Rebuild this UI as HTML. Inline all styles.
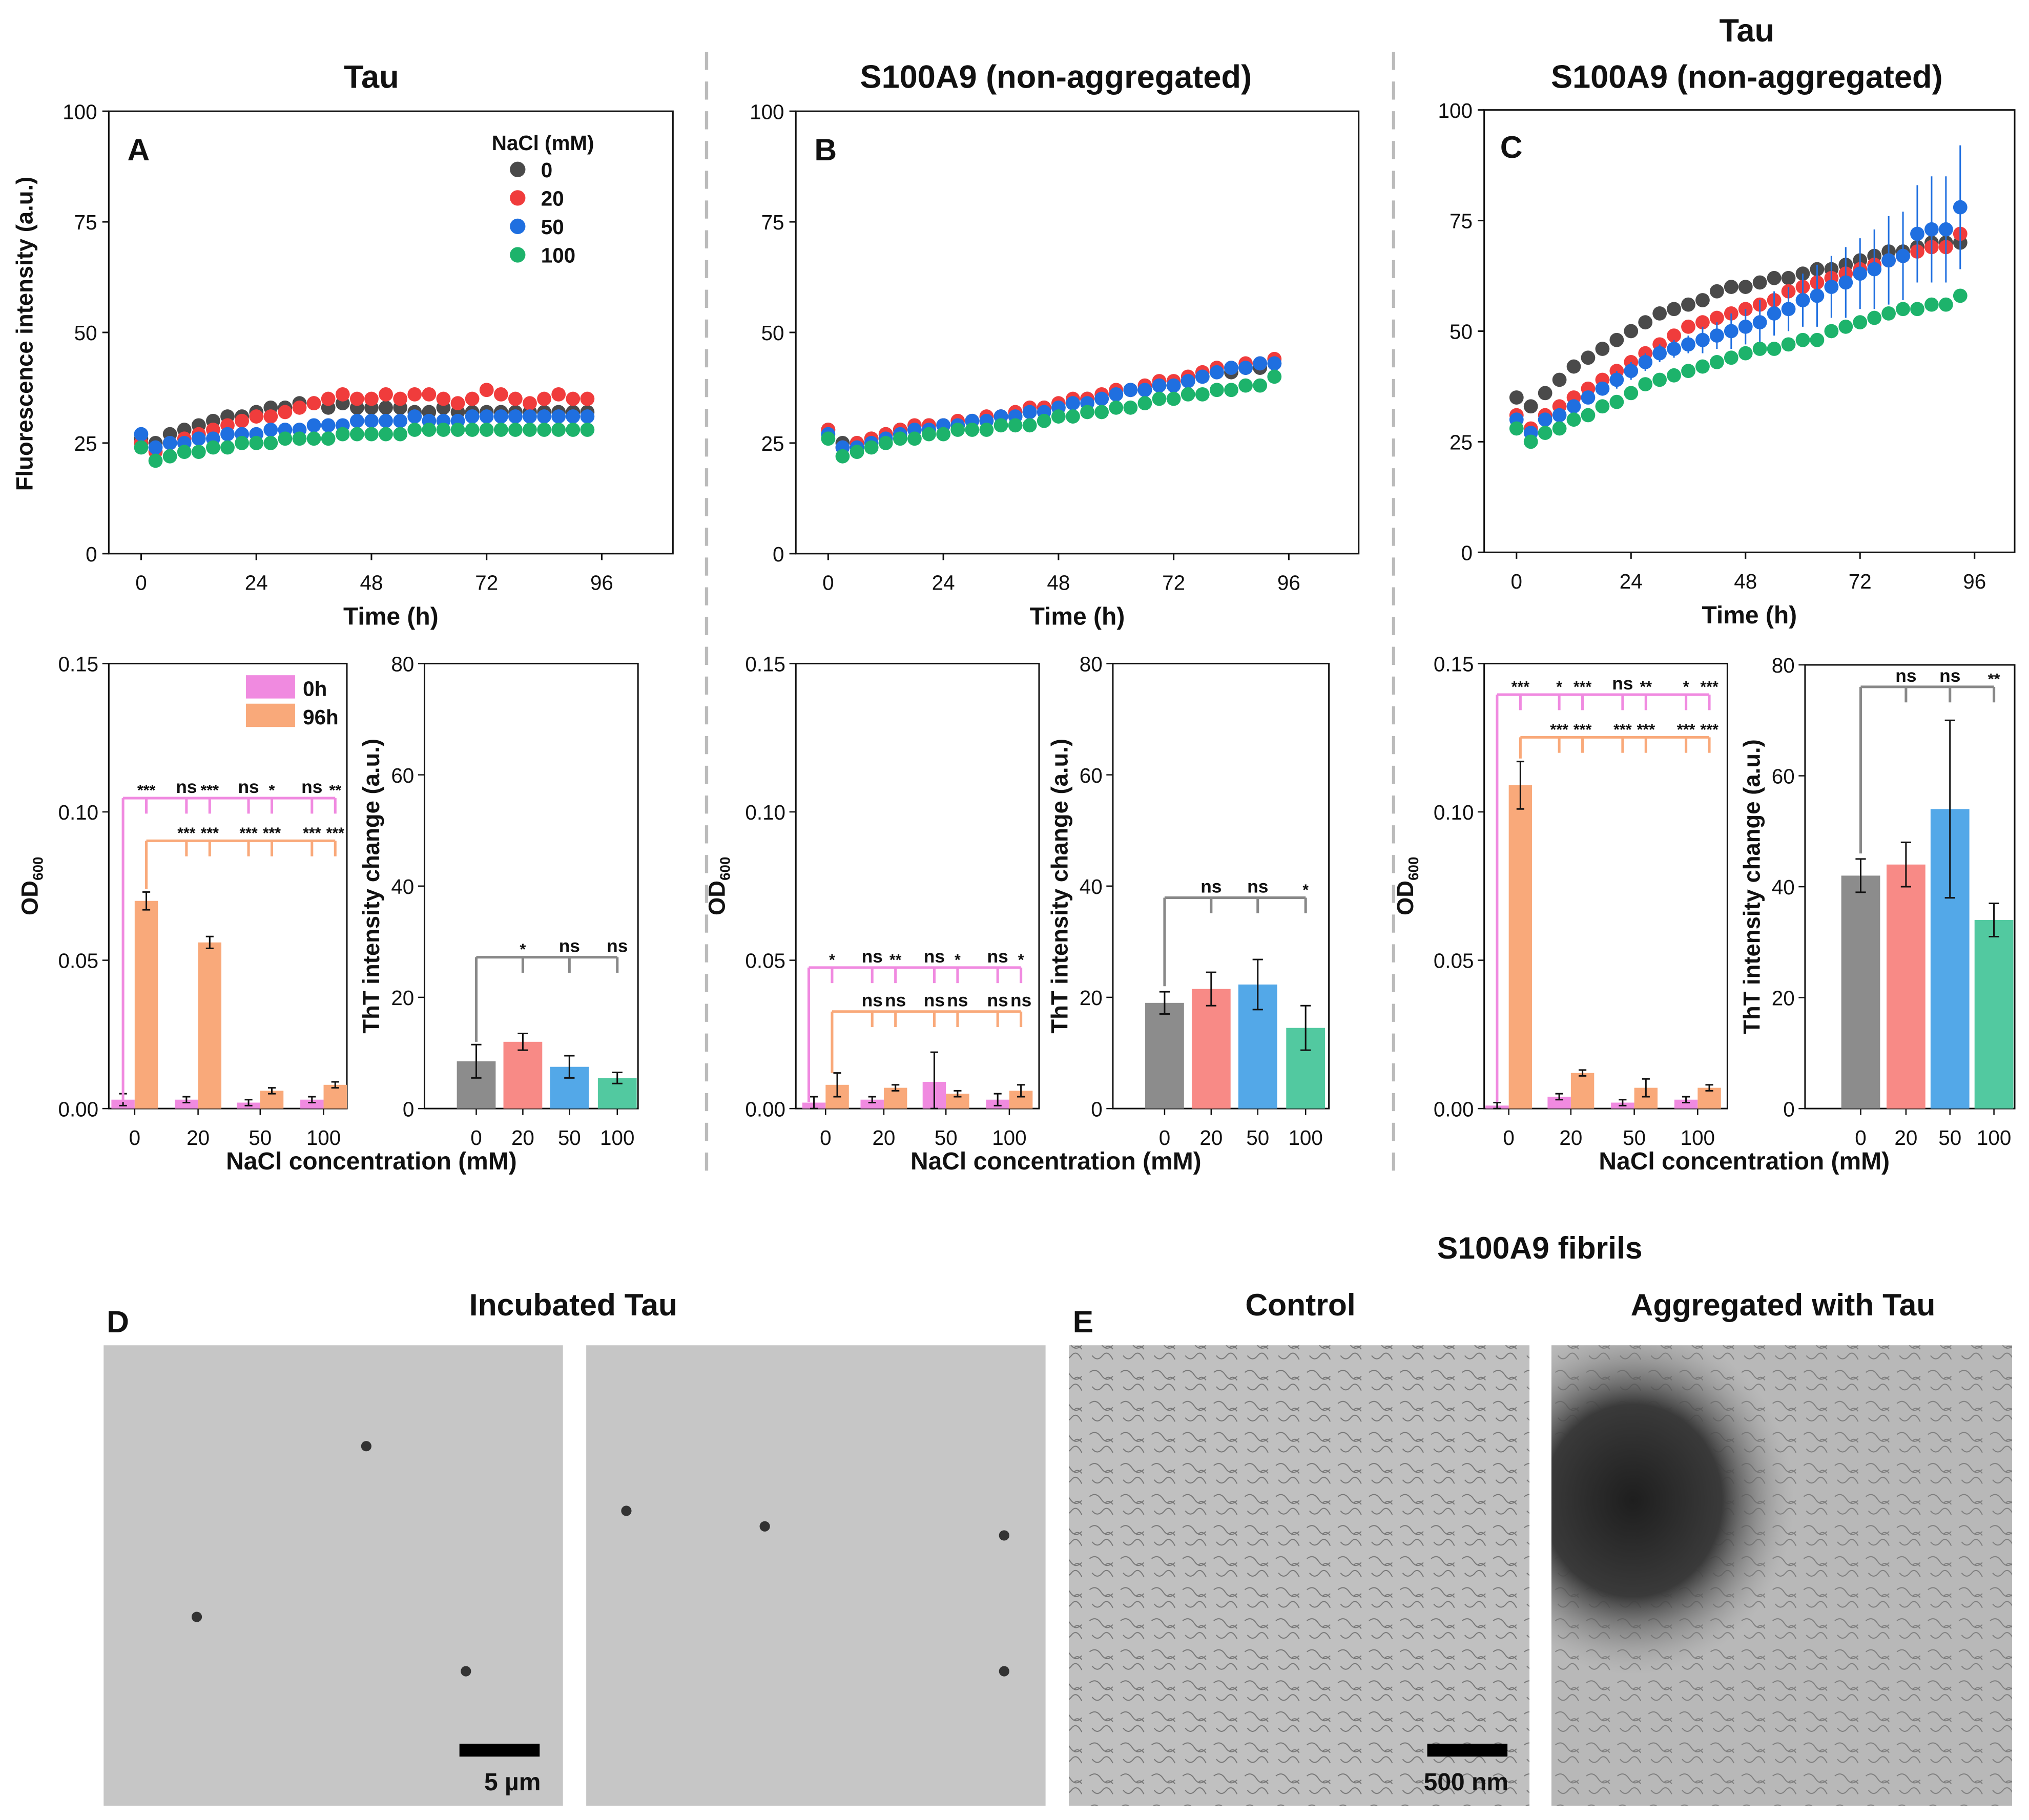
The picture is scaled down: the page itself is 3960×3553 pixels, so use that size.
<!DOCTYPE html>
<html><head><meta charset="utf-8">
<style>
html,body{margin:0;padding:0;background:#fff}
svg{display:block}
text{font-family:"Liberation Sans",Arial,sans-serif}
</style></head>
<body>
<svg id="fig" xmlns="http://www.w3.org/2000/svg" width="3960" height="3553" viewBox="0 0 1568 1407">
<defs>
<radialGradient id="blob" cx="0.5" cy="0.5" r="0.5">
<stop offset="0" stop-color="#1e1e1e"/><stop offset="0.55" stop-color="#3a3a3a"/><stop offset="1" stop-color="#9a9a9a" stop-opacity="0"/>
</radialGradient>
<pattern id="fib" width="24" height="24" patternUnits="userSpaceOnUse">
<path d="M2 5 q5 -4 9 2 t9 1 M4 16 q4 5 8 0 t8 3 M14 10 q3 -3 6 1" stroke="#444" stroke-width="0.8" fill="none"/>
</pattern>
<clipPath id="clip4"><rect x="1199" y="1040" width="356" height="356"/></clipPath>
</defs>
<g id="root"></g>
</svg>
<script>
// ---------- data ----------
var times=[0,3,6,9,12,15,18,21,24,27,30,33,36,39,42,45,48,51,54,57,60,63,66,69,72,75,78,81,84,87,90,93];
var seriesNames=["0","20","50","100"];
var A_0=[26,25,27,28,29,30,31,31,32,33,33,34,34,33,34,33,33,33,33,32,32,33,32,32,32,32,32,32,32,32,32,32];
var A_20=[25,23,25,26,27,28,29,30,31,31,32,33,34,35,36,35,35,36,35,36,36,35,34,35,37,36,35,34,35,36,35,35];
var A_50=[27,24,25,25,26,26,27,27,27,28,28,28,29,29,29,30,30,30,30,31,30,30,30,31,31,31,31,31,31,31,31,31];
var A_100=[24,21,22,23,23,24,24,25,25,25,26,26,26,26,27,27,27,27,27,28,28,28,28,28,28,28,28,28,28,28,28,28];
var B_0=[28,25,25,26,27,28,28,29,29,29,30,30,31,31,32,33,33,34,35,35,36,37,37,38,38,39,40,41,41,42,42,43];
var B_20=[28,24,25,26,27,28,29,29,29,30,30,31,31,32,33,33,34,35,35,36,37,37,38,39,39,40,41,42,42,43,43,44];
var B_50=[27,24,24,25,26,27,28,28,29,29,30,30,31,31,32,32,33,34,34,35,36,37,37,38,38,39,40,41,42,42,43,43];
var B_100=[26,22,23,24,25,26,26,27,27,28,28,28,29,29,29,30,31,31,32,32,33,33,34,35,35,36,36,37,37,38,38,40];
var C_0=[35,33,36,39,42,44,46,48,50,52,54,55,56,57,59,60,60,61,62,62,63,64,64,65,66,67,68,68,69,70,70,70];
var C_20=[31,28,31,33,35,37,39,41,43,45,47,49,51,52,53,54,55,56,57,59,60,61,62,63,64,65,66,67,68,69,69,72];
var C_50=[30,27,30,31,33,35,37,39,41,43,45,46,47,48,49,50,51,52,54,55,57,58,60,61,63,64,66,67,72,73,73,78];
var C_50err=[1,1,1,1,1,1,1,2,2,2,2,2,2,3,3,4,4,5,5,5,6,7,7,8,8,9,10,10,11,12,12,14];
var C_100=[28,25,27,28,30,31,33,34,36,38,39,40,41,42,43,44,45,46,46,47,48,48,50,51,52,53,54,55,55,56,56,58];
var xTicks=[0,24,48,72,96];
var yTicks=[0,25,50,75,100];
var nacl=["0","20","50","100"];
var A_od0=[0.003,0.003,0.002,0.003], A_od96=[0.070,0.056,0.006,0.008];
var A_od0e=[0.002,0.001,0.001,0.001], A_od96e=[0.003,0.002,0.001,0.001];
var B_od0=[0.002,0.003,0.009,0.003], B_od96=[0.008,0.007,0.005,0.006];
var B_od0e=[0.002,0.001,0.010,0.002], B_od96e=[0.004,0.001,0.001,0.002];
var C_od0=[0.001,0.004,0.002,0.003], C_od96=[0.109,0.012,0.007,0.007];
var C_od0e=[0.001,0.001,0.001,0.001], C_od96e=[0.008,0.001,0.003,0.001];
var odTicks=[0,0.05,0.10,0.15];
var A_tht=[8.5,12,7.5,5.5], A_thte=[3,1.5,2,1];
var B_tht=[19,21.5,22.3,14.5], B_thte=[2,3,4.5,4];
var C_tht=[42,44,54,34], C_thte=[3,4,16,3];
var thtTicks=[0,20,40,60,80];

var NS="http://www.w3.org/2000/svg";
var root=document.getElementById("root");
function el(tag,attrs,parent){var e=document.createElementNS(NS,tag);for(var k in attrs)e.setAttribute(k,attrs[k]);(parent||root).appendChild(e);return e;}
function txt(x,y,s,size,opts,parent){opts=opts||{};var t=el("text",{x:x,y:y,"font-size":size,"font-weight":opts.w||"bold","text-anchor":opts.a||"middle",fill:opts.c||"#111"},parent);if(opts.rot)t.setAttribute("transform","rotate(-90 "+x+" "+y+")");t.textContent=s;return t;}
var cols=["#4a4a4a","#f03c3c","#1f6fe0","#1db36b"];

function lineChart(name,L,R,T,B,x0,x96,series,errs){
  var g=el("g",{});
  
  
  var X=function(t){return x0+(x96-x0)*t/96;}, Y=function(v){return B-(B-T)*v/100;};
  el("rect",{x:L,y:T,width:R-L,height:B-T,fill:"none",stroke:"#111","stroke-width":1.2},g);
  yTicks.forEach(function(v){el("line",{x1:L-5,x2:L,y1:Y(v),y2:Y(v),stroke:"#111","stroke-width":1.2},g);var t=txt(L-9,Y(v)+6,String(v),16,{a:"end",w:"normal"},g);});
  xTicks.forEach(function(v){el("line",{x1:X(v),x2:X(v),y1:B,y2:B+5,stroke:"#111","stroke-width":1.2},g);var t=txt(X(v),B+28,String(v),16,{w:"normal"},g);});
  var xt=txt((L+R)/2,B+55,"Time (h)",19,{},g);
  
  
  series.forEach(function(s,si){
    s.forEach(function(v,i){
      var e=errs&&errs[si]?errs[si][i]:0.8;
      el("line",{x1:X(times[i]),x2:X(times[i]),y1:Y(v+e),y2:Y(v-e),stroke:cols[si],"stroke-width":1.2},g);
      var c=el("circle",{cx:X(times[i]),cy:Y(v),r:5.5,fill:cols[si]},g);
      
      
    });
  });
  return g;
}
lineChart("chart-a-tau",84,520,86,428,109,465,[A_0,A_20,A_50,A_100]);
lineChart("chart-b-s100a9",615,1050,86,428,640,996,[B_0,B_20,B_50,B_100]);
lineChart("chart-c-tau-s100a9",1147,1557,85,427,1172,1526,[C_0,C_20,C_50,C_100],[null,null,C_50err,null]);

var yt=txt(25,258,"Fluorescence intensity (a.u.)",18,{rot:1});


[["A",107,124],["B",638,124],["C",1168,122]].forEach(function(p){var t=txt(p[1],p[2],p[0],24,{});});
var t1=txt(287,68,"Tau",25,{});
var t2=txt(816,68,"S100A9 (non-aggregated)",25,{});
var t3=txt(1350,32,"Tau",25,{});
var t4=txt(1350,68,"S100A9 (non-aggregated)",25,{});
var lg=el("g",{});


txt(380,116,"NaCl (mM)",16,{a:"start"},lg);
seriesNames.forEach(function(n,i){el("circle",{cx:400,cy:131+22*i,r:6,fill:cols[i]},lg);var t=txt(418,137+22*i,n,16,{a:"start"},lg);});

[546,1077].forEach(function(x){var d=el("line",{x1:x,x2:x,y1:40,y2:905,stroke:"#bbb","stroke-width":2.5,"stroke-dasharray":"14 9"});});

function odChart(name,L,R,T,B,cx,v0,v96,e0,e96){
  var g=el("g",{});
  
  
  var Y=function(v){return B-(B-T)*v/0.15;};
  el("rect",{x:L,y:T,width:R-L,height:B-T,fill:"none",stroke:"#111","stroke-width":1.2},g);
  odTicks.forEach(function(v){el("line",{x1:L-5,x2:L,y1:Y(v),y2:Y(v),stroke:"#111"},g);txt(L-8,Y(v)+6,v.toFixed(2),16,{a:"end",w:"normal"},g);});
  nacl.forEach(function(n,i){txt(cx[i],B+28,n,16,{w:"normal"},g);el("line",{x1:cx[i],x2:cx[i],y1:B,y2:B+5,stroke:"#111"},g);});
  var t=txt(L-55,(T+B)/2,"OD",18,{rot:1},g);
  var s=el("tspan",{"font-size":11,dy:4},t);s.textContent="600";
  [[v0,e0,"#f08ae0",-9],[v96,e96,"#f9a97a",9]].forEach(function(set,k){
    set[0].forEach(function(v,i){
      var x=cx[i]+set[3];
      var r=el("rect",{x:x-9,y:Y(v),width:18,height:B-Y(v),fill:set[2]},g);
      
      
      var e=set[1][i];
      el("path",{d:"M"+x+" "+Y(v+e)+"V"+Y(Math.max(0,v-e))+"M"+(x-3)+" "+Y(v+e)+"h6M"+(x-3)+" "+Y(Math.max(0,v-e))+"h6",stroke:"#111","stroke-width":1.2,fill:"none"},g);
    });
  });
  return {g:g,Y:Y};
}
function thtChart(name,L,R,T,B,cx,vals,errs){
  var g=el("g",{});
  
  
  var Y=function(v){return B-(B-T)*v/80;};
  el("rect",{x:L,y:T,width:R-L,height:B-T,fill:"none",stroke:"#111","stroke-width":1.2},g);
  thtTicks.forEach(function(v){el("line",{x1:L-5,x2:L,y1:Y(v),y2:Y(v),stroke:"#111"},g);txt(L-8,Y(v)+6,String(v),16,{a:"end",w:"normal"},g);});
  var bc=["#8c8c8c","#f88a86","#53a8e8","#52c9a0"];
  vals.forEach(function(v,i){
    el("line",{x1:cx[i],x2:cx[i],y1:B,y2:B+5,stroke:"#111"},g);
    txt(cx[i],B+28,nacl[i],16,{w:"normal"},g);
    var r=el("rect",{x:cx[i]-15,y:Y(v),width:30,height:B-Y(v),fill:bc[i]},g);
    
    
    var e=errs[i];
    el("path",{d:"M"+cx[i]+" "+Y(v+e)+"V"+Y(v-e)+"M"+(cx[i]-4)+" "+Y(v+e)+"h8M"+(cx[i]-4)+" "+Y(v-e)+"h8",stroke:"#111","stroke-width":1.2,fill:"none"},g);
  });
  txt(L-35,(T+B)/2,"ThT intensity change (a.u.)",18,{rot:1},g);
  return {g:g,Y:Y};
}
function bracket(g,y,xStart,xs,labels,color,drop){
  el("line",{x1:xStart,x2:xs[xs.length-1],y1:y,y2:y,stroke:color,"stroke-width":2},g);
  el("line",{x1:xStart,x2:xStart,y1:y,y2:drop,stroke:color,"stroke-width":2},g);
  xs.forEach(function(x,i){el("line",{x1:x,x2:x,y1:y,y2:y+12,stroke:color,"stroke-width":2},g);
    var ns=labels[i]=="ns";txt(x,ns?y-4:y-2,labels[i],ns?14:12,{},g);});
}
var cA=[104,153,201,250], cB=[638,683,731,780], cC=[1166,1214,1263,1312];
function pos(c){var a=[];c.forEach(function(x,i){if(i>0){a.push(x-9);a.push(x+9);}});return a;}
var oA=odChart("od-chart-a",84,268,513,857,cA,A_od0,A_od96,A_od0e,A_od96e);
bracket(oA.g,617,95,[113].concat(pos(cA)),["***","ns","***","ns","*","ns","**"],"#f08ae0",852);
bracket(oA.g,650,113,pos(cA),["***","***","***","***","***","***"],"#f9a97a",oA.Y(0.074));
var oB=odChart("od-chart-b",615,803,513,857,cB,B_od0,B_od96,B_od0e,B_od96e);
bracket(oB.g,748,625,[643].concat(pos(cB)),["*","ns","**","ns","*","ns","*"],"#f08ae0",852);
bracket(oB.g,782,643,pos(cB),["ns","ns","ns","ns","ns","ns"],"#f9a97a",oB.Y(0.012));
var oC=odChart("od-chart-c",1147,1335,513,857,cC,C_od0,C_od96,C_od0e,C_od96e);
bracket(oC.g,537,1157,[1175].concat(pos(cC)),["***","*","***","ns","**","*","***"],"#f08ae0",852);
bracket(oC.g,570,1175,pos(cC),["***","***","***","***","***","***"],"#f9a97a",oC.Y(0.118));
var lo=el("g",{});


el("rect",{x:190,y:522,width:38,height:18,fill:"#f08ae0"},lo);txt(234,538,"0h",16,{a:"start"},lo);
el("rect",{x:190,y:544,width:38,height:18,fill:"#f9a97a"},lo);txt(234,560,"96h",16,{a:"start"},lo);

var hA=thtChart("tht-chart-a",328,493,513,857,[368,404,440,477],A_tht,A_thte);
bracket(hA.g,740,368,[404,440,477],["*","ns","ns"],"#888",hA.Y(12));
var hB=thtChart("tht-chart-b",860,1027,513,857,[900,936,972,1009],B_tht,B_thte);
bracket(hB.g,694,900,[936,972,1009],["ns","ns","*"],"#888",hB.Y(22));
var hC=thtChart("tht-chart-c",1395,1557,514,857,[1438,1473,1507,1541],C_tht,C_thte);
bracket(hC.g,531,1438,[1473,1507,1541],["ns","ns","**"],"#888",hC.Y(46));
[[287,904],[816,904],[1348,904]].forEach(function(p){var t=txt(p[0],p[1],"NaCl concentration (mM)",19,{});});

var s1=txt(1190,973,"S100A9 fibrils",24,{});
var s2=txt(443,1017,"Incubated Tau",24,{});
var s3=txt(1005,1017,"Control",24,{});
var s4=txt(1378,1017,"Aggregated with Tau",24,{});
var pd=txt(91,1030,"D",24,{});
var pe=txt(837,1030,"E",24,{});
var im1=el("rect",{x:80,y:1040,width:355,height:356,fill:"#c6c6c6"});
var im2=el("rect",{x:453,y:1040,width:355,height:356,fill:"#c6c6c6"});
[[283,1118],[152,1250],[360,1292],[484,1168],[591,1180],[776,1187],[776,1292]].forEach(function(p){el("circle",{cx:p[0],cy:p[1],r:4,fill:"#333"});});
var im3=el("rect",{x:826,y:1040,width:356,height:356,fill:"#c0c0c0"});
el("rect",{x:826,y:1040,width:356,height:356,fill:"url(#fib)",opacity:0.6});
var im4=el("rect",{x:1199,y:1040,width:356,height:356,fill:"#b8b8b8"});
el("rect",{x:1199,y:1040,width:356,height:356,fill:"url(#fib)",opacity:0.5});
el("ellipse",{cx:1262,cy:1160,rx:125,ry:135,fill:"url(#blob)","clip-path":"url(#clip4)"});
el("rect",{x:355,y:1348,width:62,height:10,fill:"#000"});
var sb1=txt(396,1384,"5 µm",19,{});
el("rect",{x:1103,y:1348,width:62,height:10,fill:"#000"});
var sb2=txt(1133,1384,"500 nm",19,{});
</script>
</body></html>
